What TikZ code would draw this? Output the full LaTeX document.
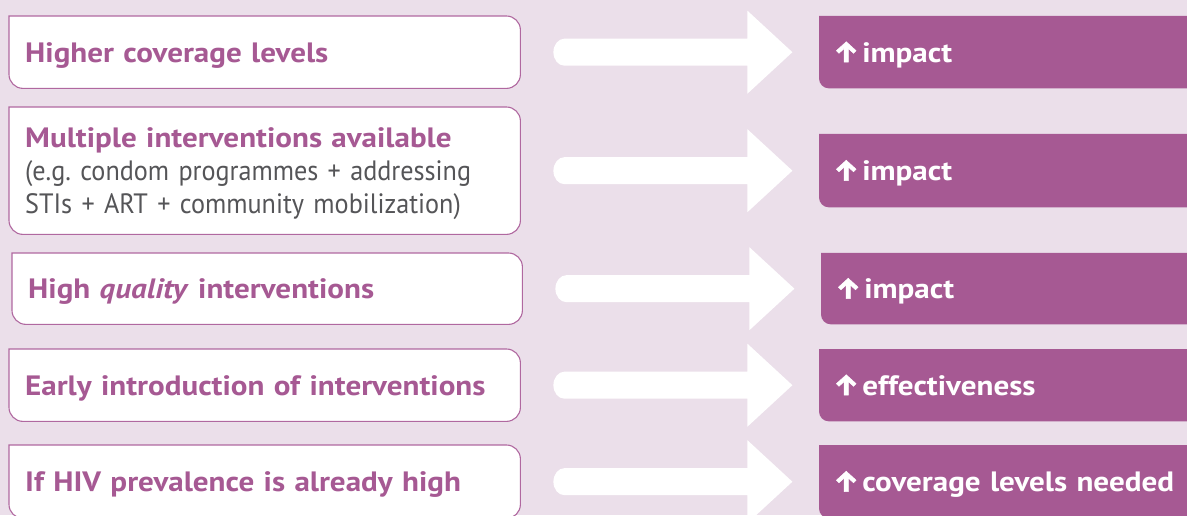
\documentclass[tikz,border=0pt]{standalone}
\usepackage{fontspec}
\setmainfont{PT Sans}[UprightFeatures={FakeStretch=0.935}, BoldFeatures={FakeStretch=1.11}, BoldItalicFeatures={FakeStretch=1.11}]
\newfontfamily\arrowfont{Fira Sans}[BoldFeatures={FakeBold=1.5}]
\usetikzlibrary{backgrounds,calc}
\definecolor{bgc}{RGB}{235,223,234}
\definecolor{purp}{RGB}{166,89,147}
\definecolor{edgec}{RGB}{176,104,160}
\definecolor{greytxt}{RGB}{85,85,88}
\newcommand\upar{{\arrowfont\bfseries\fontsize{29}{33}\selectfont\char"2191}}
\frenchspacing
\tikzset{
  lbox/.style={anchor=north west, inner xsep=16pt, inner ysep=0pt, text width=#1, align=left,
    font=\fontsize{28}{33}\selectfont\bfseries, text=purp, text height=20pt, text depth=0pt},
  rbox/.style={anchor=north west, inner xsep=14pt, inner ysep=0pt, text width=348pt, align=left,
    font=\fontsize{28}{33}\selectfont\bfseries, text=white, minimum width=376pt, text height=20pt, text depth=0pt},
  lframe/.style={fill=white, draw=edgec, line width=1.1pt},
  rframe/.style={fill=purp},
  fatarrowstyle/.style={fill=white}
}
\newcommand\leftframe[1]{\path[lframe] (#1.north west) [rounded corners=14pt] -- (#1.north east) -- (#1.south east) -- (#1.south west) [sharp corners] -- cycle;}
\newcommand\rightframe[1]{\path[rframe] (#1.north west) -- (#1.north east) -- (#1.south east) [rounded corners=10pt] -- (#1.south west) [sharp corners] -- cycle;}
\newcommand\fatarrow[1]{\begin{scope}[shift={(#1)}]
  \path[fatarrowstyle] (194,13.5) -- (194,41.5) -- (239,0) -- (194,-41.5) -- (194,-13.5) -- (11,-13.5)
    arc[start angle=270, end angle=90, x radius=11, y radius=13.5] -- cycle;
  \end{scope}}
\begin{document}
\begin{tikzpicture}[x=1pt,y=1pt]
\useasboundingbox (0,0) rectangle (1187,515);
% left boxes
\node[lbox=479pt, minimum height=72pt] (b1) at (9,499) {Higher coverage levels};
\node[lbox=479pt, minimum height=127pt, text depth=66pt] (b2) at (9,408) {Multiple interventions available\\
  {\mdseries\color{greytxt}(e.g. condom programmes + addressing\\ STIs + ART + community mobilization)}};
\node[lbox=478pt, minimum height=71pt] (b3) at (12,262) {High \textit{quality} interventions};
\node[lbox=479pt, minimum height=72pt] (b4) at (9,166) {Early introduction of interventions};
\node[lbox=479pt, minimum height=73pt] (b5) at (9,70) {If HIV prevalence is already high};
% right boxes
\node[rbox, minimum height=72pt] (r1) at (819,499) {\upar\hspace{3pt}impact};
\node[rbox, minimum height=73pt] (r2) at (819,381) {\upar\hspace{3pt}impact};
\node[rbox, minimum height=71pt] (r3) at (821,262) {\upar\hspace{3pt}impact};
\node[rbox, minimum height=72pt] (r4) at (819,166) {\upar\hspace{3pt}effectiveness};
\node[rbox, minimum height=73pt] (r5) at (819,70) {\upar\hspace{3pt}coverage levels needed};
% arrow anchors
\foreach \i in {1,...,5} {\path (b\i.east) ++(33,0) coordinate (a\i);}
\begin{scope}[on background layer]
  \fill[bgc] (0,0) rectangle (1187,515);
  \clip (0,0) rectangle (1187,515);
  \foreach \i in {1,...,5} {\leftframe{b\i}\rightframe{r\i}\fatarrow{a\i}}
\end{scope}
\end{tikzpicture}
\end{document}
